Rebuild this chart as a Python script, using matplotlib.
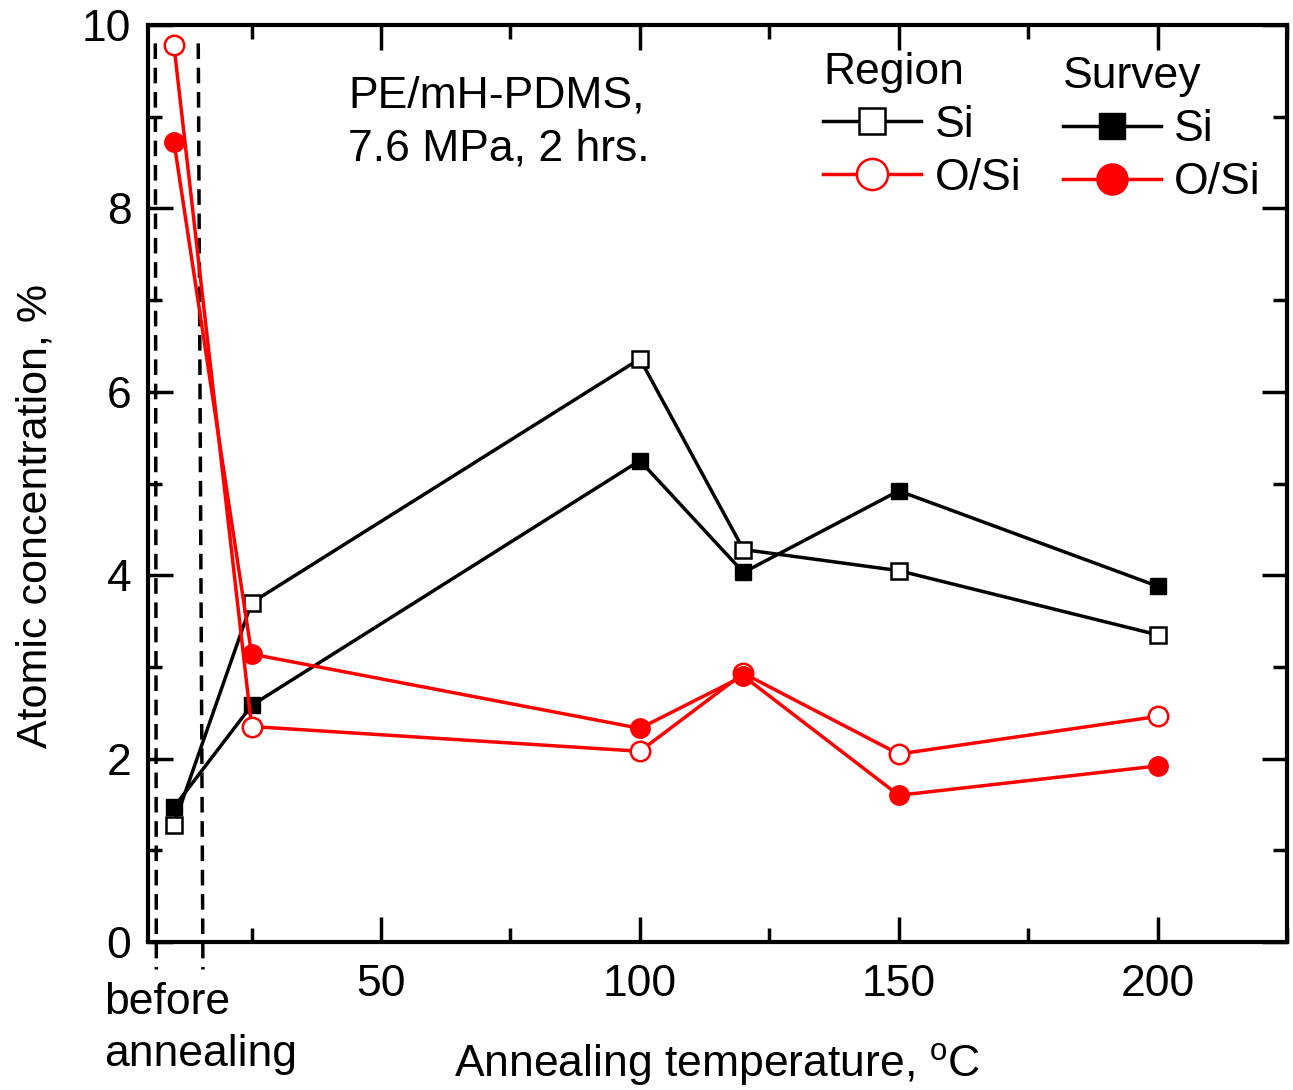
import matplotlib
matplotlib.use("Agg")
import matplotlib.pyplot as plt
from matplotlib.ticker import MultipleLocator, FixedLocator, NullFormatter

plt.rcParams['font.family'] = ['Liberation Sans', 'DejaVu Sans']
plt.rcParams['mathtext.fontset'] = 'custom'
plt.rcParams['mathtext.rm'] = 'Liberation Sans'
plt.rcParams['mathtext.it'] = 'Liberation Sans:italic'

# annealing temperature (first point = before annealing)
temperature = [10, 25, 100, 120, 150, 200]

# atomic concentration, %
region_si = [1.28, 3.70, 6.36, 4.28, 4.05, 3.35]
survey_si = [1.47, 2.58, 5.25, 4.03, 4.92, 3.88]
region_osi = [9.78, 2.35, 2.08, 2.93, 2.05, 2.46]
survey_osi = [8.73, 3.14, 2.33, 2.90, 1.60, 1.92]

# dashed box marking the "before annealing" point
before_x_left = [6.4, 6.6]
before_x_right = [14.7, 15.6]
before_y = [9.8, -0.3]

x_ticks = [50, 100, 150, 200]
y_ticks = [0, 2, 4, 6, 8, 10]

FS = 32

fig = plt.figure(figsize=(12.93, 10.90), dpi=100)
ax = fig.add_axes([0.1145, 0.1358, 0.8809, 0.8412])

lw = 2.5
r_si, = ax.plot(temperature, region_si, color="black", lw=lw, marker="s", ms=12,
                mfc="white", mec="black", mew=1.8, zorder=3)
s_si, = ax.plot(temperature, survey_si, color="black", lw=lw, marker="s", ms=12,
                mfc="black", mec="black", zorder=3)
r_osi, = ax.plot(temperature, region_osi, color="red", lw=lw, marker="o", ms=14,
                 mfc="white", mec="red", mew=1.8, zorder=3)
s_osi, = ax.plot(temperature, survey_osi, color="red", lw=lw, marker="o", ms=14,
                 mfc="red", mec="red", zorder=3)

ax.plot(before_x_left, before_y, color="black", lw=2.5, ls=(0, (4.5, 2.5)), clip_on=False)
ax.plot(before_x_right, before_y, color="black", lw=2.5, ls=(0, (4.5, 2.5)), clip_on=False)

ax.set_xlim(5, 225)
ax.set_ylim(0, 10)
ax.xaxis.set_major_locator(FixedLocator(x_ticks))
ax.xaxis.set_minor_locator(MultipleLocator(25))
ax.yaxis.set_major_locator(FixedLocator(y_ticks))
ax.yaxis.set_minor_locator(MultipleLocator(1))
ax.xaxis.set_minor_formatter(NullFormatter())
ax.tick_params(which="both", direction="in", top=True, right=True, width=2.5,
               labelsize=FS)
ax.tick_params(axis="x", pad=16)
ax.tick_params(axis="y", pad=12)
ax.tick_params(which="major", length=18)
ax.tick_params(which="minor", length=10)
for s in ax.spines.values():
    s.set_linewidth(3)

ax.set_xlabel("Annealing temperature, $^{\\mathrm{o}}$C", fontsize=FS)
ax.xaxis.set_label_coords(0.5, -0.108)
ax.set_ylabel("Atomic concentration, %", fontsize=31)
ax.yaxis.set_label_coords(-0.081, 0.465)

ax.text(-0.0386, -0.044, "before\nannealing", transform=ax.transAxes,
        fontsize=FS, ha="left", va="top", linespacing=1.34)
ax.text(0.1755, 0.945, "PE/mH-PDMS,\n7.6 MPa, 2 hrs.", transform=ax.transAxes,
        fontsize=FS, ha="left", va="top", linespacing=1.37)

leg_kw = dict(frameon=False, fontsize=FS, title_fontsize=FS, handlelength=2.2,
              handletextpad=0.3, labelspacing=0.27, markerscale=1.6,
              alignment="left", borderpad=0)
leg1 = ax.legend([r_si, r_osi], ["Si", "O/Si"], title="Region",
                 loc="upper left", bbox_to_anchor=(0.5735, 0.995), **leg_kw)
ax.add_artist(leg1)
ax.legend([s_si, s_osi], ["Si", "O/Si"], title="Survey",
          loc="upper left", bbox_to_anchor=(0.784, 0.99), **leg_kw)

fig.savefig("out.png", dpi=100)
